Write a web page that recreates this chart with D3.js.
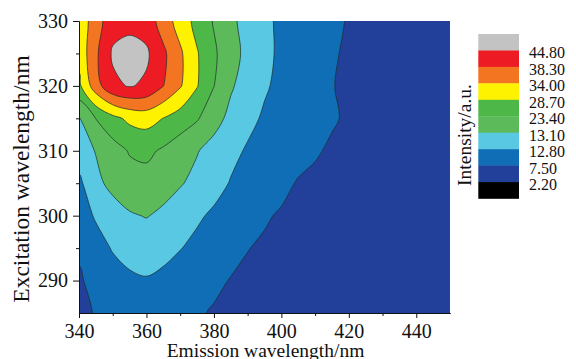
<!DOCTYPE html>
<html>
<head>
<meta charset="utf-8">
<script src="https://cdn.jsdelivr.net/npm/d3@7"></script>
<style>
  body { margin: 0; background: #fff; }
</style>
</head>
<body>
<svg id="chart" width="576" height="359"></svg>
<script>
// grid of the EEM map
const emission = [340, 345, 350, 355, 360, 365, 370, 375, 380, 385, 390, 395,
                  400, 405, 410, 415, 420, 425, 430, 435, 440, 445, 450];
const excitation = [330, 325, 320, 315, 310, 305, 300, 295, 290, 285];

// intensity (a.u.), one row per excitation wavelength, columns follow emission
const intensity = [
  [30.3, 36.4, 42.2, 42.2, 41.9, 36.3, 31.7, 27.0, 22.6, 15.3, 12.99, 12.85, 12.0, 10.8, 9.6, 8.4, 7.2, 6.7, 6.2, 5.6, 5.1, 4.6, 4.3],
  [30.3, 37.5, 45.6, 48.1, 45.8, 39.6, 34.7, 29.1, 24.2, 17.0, 13.02, 12.86, 12.0, 10.6, 9.2, 7.8, 7.1, 6.6, 6.1, 5.6, 5.2, 4.7, 4.3],
  [27.6, 36.5, 43.5, 45.2, 43.8, 38.4, 34.4, 29.0, 23.5, 14.3, 12.97, 12.83, 11.7, 10.3, 8.9, 7.6, 7.0, 6.5, 6.0, 5.5, 5.1, 4.6, 4.2],
  [13.08, 23.5, 27.2, 29.9, 30.8, 28.6, 26.2, 23.9, 17.0, 13.02, 12.87, 12.2, 11.1, 10.0, 8.9, 7.8, 7.1, 6.6, 6.1, 5.6, 5.2, 4.7, 4.3],
  [12.95, 13.6, 19.1, 23.8, 24.5, 22.0, 17.8, 13.7, 12.99, 12.87, 12.3, 11.2, 10.0, 8.9, 7.8, 7.1, 6.8, 6.4, 6.0, 5.5, 5.1, 4.7, 4.3],
  [11.7, 13.02, 16.2, 19.3, 19.8, 17.2, 13.9, 13.02, 12.9, 12.5, 11.2, 9.8, 8.5, 7.2, 6.9, 6.5, 6.2, 5.9, 5.6, 5.3, 5.0, 4.6, 4.3],
  [10.4, 12.83, 12.95, 13.07, 13.6, 13.04, 12.94, 12.84, 12.0, 10.6, 9.2, 7.9, 7.1, 6.8, 6.4, 6.1, 5.8, 5.5, 5.3, 5.0, 4.7, 4.5, 4.3],
  [8.1, 10.8, 12.82, 12.89, 12.91, 12.88, 12.81, 11.6, 10.3, 8.9, 7.6, 7.0, 6.7, 6.3, 6.1, 5.8, 5.5, 5.3, 5.1, 4.9, 4.6, 4.4, 4.2],
  [7.0, 8.8, 10.7, 12.0, 12.5, 11.7, 10.4, 9.4, 8.4, 7.3, 6.8, 6.3, 6.0, 5.7, 5.4, 5.2, 5.0, 4.9, 4.7, 4.5, 4.4, 4.2, 4.1],
  [5.9, 7.9, 9.4, 10.2, 10.3, 9.7, 9.0, 8.0, 7.1, 6.7, 6.3, 5.9, 5.6, 5.3, 5.0, 4.8, 4.6, 4.4, 4.3, 4.1, 4.0, 3.9, 3.8]
];

const levels = [2.2, 7.5, 12.8, 13.1, 23.4, 28.7, 34.0, 38.3, 44.8];
const levelLabels = ['2.20', '7.50', '12.80', '13.10', '23.40', '28.70', '34.00', '38.30', '44.80'];
// below 2.20 ... above 44.80
const bandColors = ['#000000', '#22409a', '#0f6eb6', '#58c8e3', '#5dba5b',
                    '#4db748', '#fff200', '#f37521', '#ed1c24', '#c3c3c3'];

const xTicks = [340, 360, 380, 400, 420, 440];
const xMinor = [350, 370, 390, 410, 430];
const yTicks = [290, 300, 310, 320, 330];
const yMinor = [295, 305, 315, 325];

const font = '"Liberation Serif", "Times New Roman", serif';
const plot = { left: 79, right: 450, top: 21, bottom: 313 };

const svg = d3.select('#chart');

const x = d3.scaleLinear().domain([340, 450]).range([plot.left, plot.right]);
const y = d3.scaleLinear().domain([285, 330]).range([plot.bottom, plot.top]);

// legend steps are uneven, so contour in "level" space (1..9)
const toLevel = d3.scaleLinear().domain(levels).range(levels.map((d, i) => i + 1));

const nx = emission.length, ny = excitation.length;
const W = nx + 2, H = ny + 2;   // pad one cell each side so lines run past the frame
const grid = new Array(W * H);
for (let j = 0; j < H; j++) {
  for (let i = 0; i < W; i++) {
    const jj = Math.min(Math.max(j - 1, 0), ny - 1);
    const ii = Math.min(Math.max(i - 1, 0), nx - 1);
    grid[j * W + i] = toLevel(intensity[jj][ii]);
  }
}

const contours = d3.contours()
  .size([W, H])
  .thresholds(levels.map((d, i) => i + 1))(grid);

// grid coordinate -> wavelength (value k sits at k + 0.5, shifted by the padding)
const gx = d3.scaleLinear().domain([1.5, nx + 0.5]).range([emission[0], emission[nx - 1]]);
const gy = d3.scaleLinear().domain([1.5, ny + 0.5]).range([excitation[0], excitation[ny - 1]]);

const ringLine = d3.line()
  .x(p => x(gx(p[0])))
  .y(p => y(gy(p[1])))
  .curve(d3.curveCatmullRomClosed.alpha(0.5));

const shape = c => c.coordinates
  .map(poly => poly.map(ring => ringLine(ring.slice(0, -1))).join(''))
  .join('');

svg.append('clipPath').attr('id', 'clip')
  .append('rect')
  .attr('x', plot.left).attr('y', plot.top)
  .attr('width', plot.right - plot.left)
  .attr('height', plot.bottom - plot.top);

const area = svg.append('g').attr('clip-path', 'url(#clip)');

area.append('rect')
  .attr('x', plot.left).attr('y', plot.top)
  .attr('width', plot.right - plot.left)
  .attr('height', plot.bottom - plot.top)
  .attr('fill', bandColors[1]);

area.selectAll('path.band')
  .data(contours)
  .join('path')
  .attr('class', 'band')
  .attr('d', shape)
  .attr('fill-rule', 'evenodd')
  .attr('fill', (d, i) => bandColors[i + 1]);

area.selectAll('path.line')
  .data(contours.slice(1))
  .join('path')
  .attr('class', 'line')
  .attr('d', shape)
  .attr('fill', 'none')
  .attr('stroke', '#1d2b2b')
  .attr('stroke-width', 0.7);

// axes
const styleAxis = g => {
  g.attr('font-size', 20).attr('font-family', font);
  g.selectAll('text').attr('fill', '#111');
  g.selectAll('line, path').attr('stroke', '#111');
};

svg.append('g')
  .attr('transform', `translate(0,${plot.bottom})`)
  .call(d3.axisBottom(x).tickValues(xMinor).tickSize(3).tickSizeOuter(0).tickFormat(''))
  .call(styleAxis);

svg.append('g')
  .attr('transform', `translate(0,${plot.bottom})`)
  .call(d3.axisBottom(x).tickValues(xTicks).tickSize(5).tickSizeOuter(0).tickPadding(6))
  .call(styleAxis);

svg.append('g')
  .attr('transform', `translate(${plot.left},0)`)
  .call(d3.axisLeft(y).tickValues(yMinor).tickSize(3).tickSizeOuter(0).tickFormat(''))
  .call(styleAxis);

svg.append('g')
  .attr('transform', `translate(${plot.left},0)`)
  .call(d3.axisLeft(y).tickValues(yTicks).tickSize(6).tickSizeOuter(0).tickPadding(5))
  .call(styleAxis);

svg.append('text')
  .attr('x', 265.5).attr('y', 357)
  .attr('text-anchor', 'middle')
  .attr('font-family', font).attr('font-size', 19.5).attr('fill', '#111')
  .text('Emission wavelength/nm');

svg.append('text')
  .attr('transform', 'translate(29,179) rotate(-90)')
  .attr('text-anchor', 'middle')
  .attr('font-family', font).attr('font-size', 23.5).attr('fill', '#111')
  .text('Excitation wavelength/nm');

// legend
const legend = { x: 478.3, y: 34, w: 40.7, cell: 16.45 };
const legendRows = bandColors.slice().reverse();

svg.append('g').selectAll('rect')
  .data(legendRows)
  .join('rect')
  .attr('x', legend.x)
  .attr('y', (d, i) => legend.y + i * legend.cell)
  .attr('width', legend.w)
  .attr('height', legend.cell + 0.3)
  .attr('fill', d => d);

svg.append('g').selectAll('text')
  .data(levelLabels.slice().reverse())
  .join('text')
  .attr('x', 529)
  .attr('y', (d, i) => legend.y + (i + 1) * legend.cell + 2.3)
  .attr('dy', '0.35em')
  .attr('font-family', font).attr('font-size', 16).attr('fill', '#111')
  .text(d => d);

svg.append('text')
  .attr('transform', 'translate(471,135) rotate(-90)')
  .attr('text-anchor', 'middle')
  .attr('font-family', font).attr('font-size', 19.5).attr('fill', '#111')
  .text('Intensity/a.u.');
</script>
</body>
</html>
